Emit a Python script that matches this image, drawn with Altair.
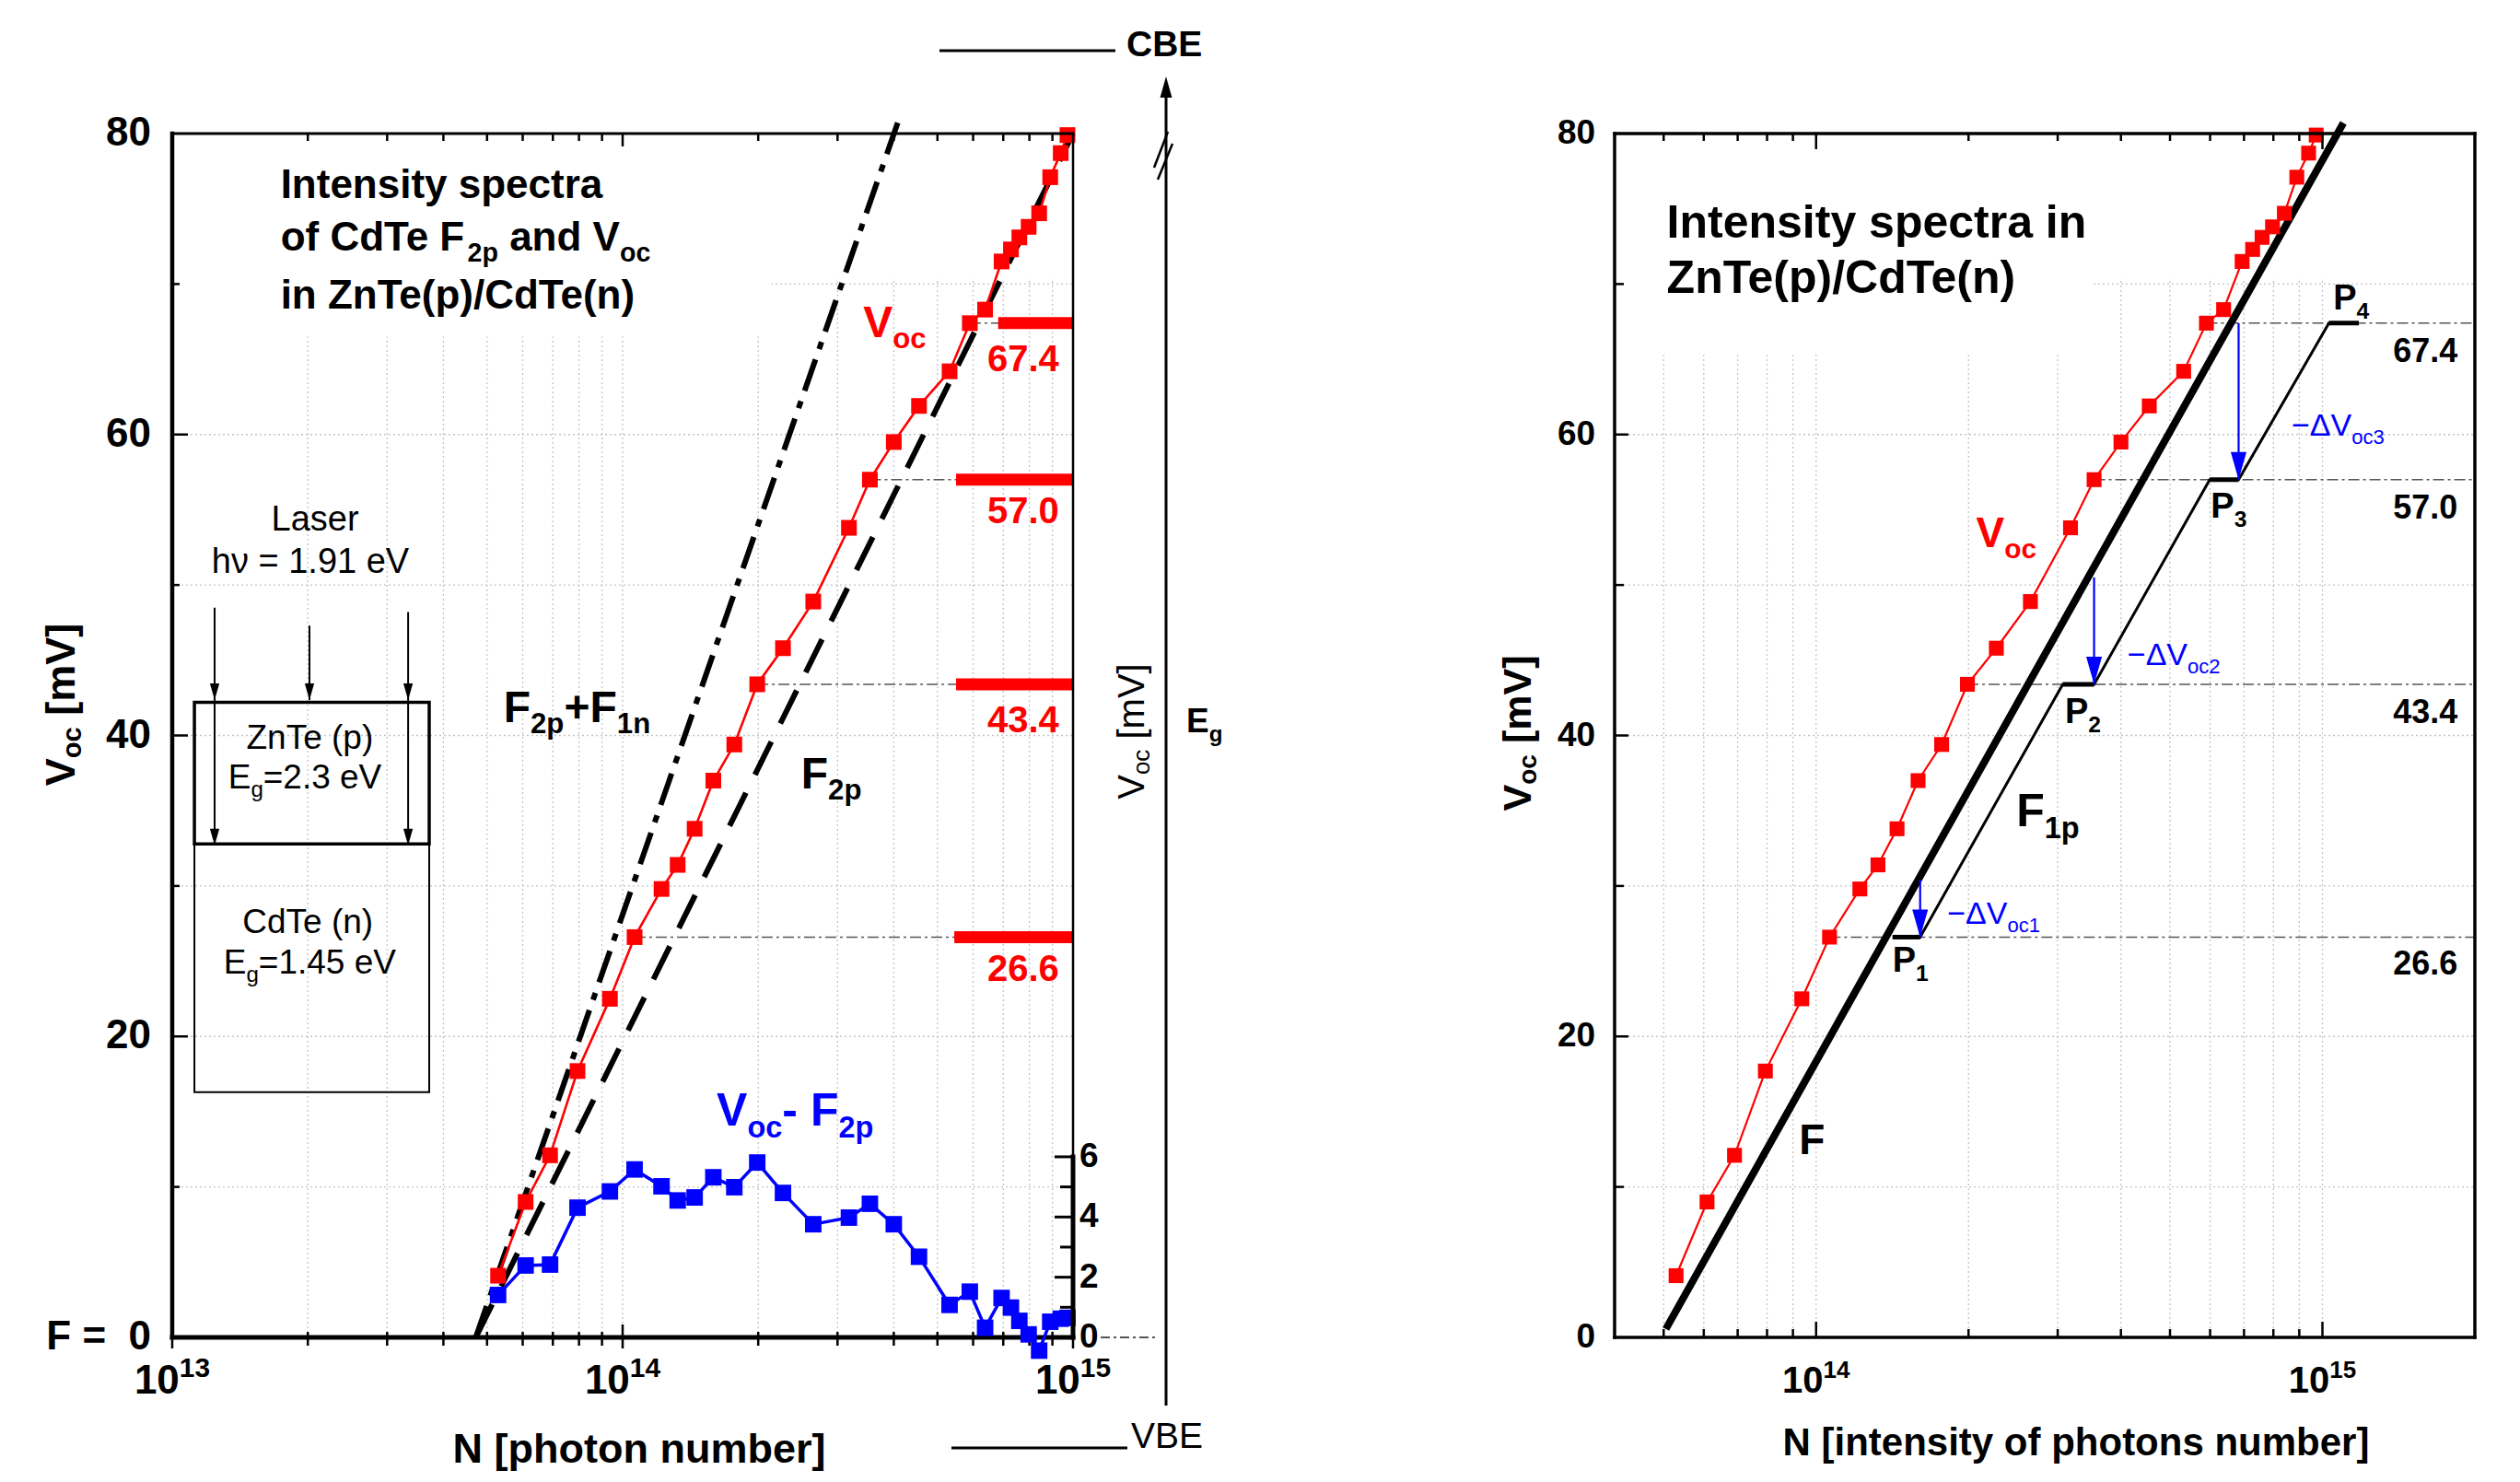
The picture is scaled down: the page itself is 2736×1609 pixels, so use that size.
import altair as alt
import pandas as pd

FONT = "Liberation Sans"

# ------------------------------------------------------------------ data
voc_N = [5.29e13, 6.09e13, 6.9e13, 7.94e13, 9.37e13, 1.063e14, 1.22e14, 1.325e14, 1.445e14, 1.59e14,
         1.77e14, 1.99e14, 2.27e14, 2.65e14, 3.18e14, 3.54e14, 4.0e14, 4.55e14, 5.32e14, 5.9e14,
         6.38e14, 6.94e14, 7.28e14, 7.6e14, 7.97e14, 8.41e14, 8.9e14, 9.39e14, 9.72e14]
voc_mV = [4.1, 9.0, 12.1, 17.7, 22.5, 26.6, 29.8, 31.4, 33.8, 37.0,
          39.4, 43.4, 45.8, 48.9, 53.8, 57.0, 59.5, 61.9, 64.2, 67.4,
          68.3, 71.5, 72.3, 73.1, 73.8, 74.7, 77.1, 78.7, 79.9]
diff_mV = [1.41, 2.39, 2.42, 4.31, 4.85, 5.58, 5.02, 4.55, 4.65, 5.32,
           4.99, 5.81, 4.80, 3.76, 3.98, 4.44, 3.76, 2.68, 1.08, 1.52,
           0.32, 1.31, 0.99, 0.55, 0.10, -0.44, 0.52, 0.62, 0.65]

f2p_N = [4.72e13, 1.0e15]
f2p_mV = [0.0, 80.0]
f2p_f1n_N = [4.72e13, 4.09e14]
f2p_f1n_mV = [0.0, 80.8]

F_N = [5.05e13, 1.10e15]
F_mV = [0.56, 80.7]
f1p_N = [1.416e14, 1.605e14, 3.07e14, 3.54e14, 5.99e14, 6.83e14, 1.03e15, 1.18e15]
f1p_mV = [26.6, 26.6, 43.4, 43.4, 57.0, 57.0, 67.4, 67.4]

levels = [26.6, 43.4, 57.0, 67.4]
level_labels = ["26.6", "43.4", "57.0", "67.4"]
level_from_N = [1.063e14, 1.99e14, 3.54e14, 5.9e14]
bar_from_N = [5.45e14, 5.5e14, 5.5e14, 6.82e14]

p_left_N = [1.416e14, 3.07e14, 5.99e14, 1.03e15]
p_right_N = [1.605e14, 3.54e14, 6.83e14, 1.18e15]
p_names = ["1", "2", "3", "4"]

arrow_N = [1.605e14, 3.54e14, 6.83e14]
arrow_top_mV = [30.4, 50.5, 67.4]
arrow_tip_mV = [26.6, 43.4, 57.0]

# inset schematic (left panel)
inset_arrow_N = [1.242e13, 2.017e13, 3.34e13]
inset_arrow_top = [48.5, 47.3, 48.2]
inset_arrow_bot = [32.7, 42.35, 32.7]
inset_head_N = [1.242e13, 2.017e13, 3.34e13, 1.242e13, 3.34e13]
inset_head_mV = [42.35, 42.35, 42.35, 32.7, 32.7]
znte_box = ([1.12e13], [3.72e13], [32.8], [42.2])
cdte_box = ([1.12e13], [3.72e13], [16.3], [32.8])

# ticks / labels
left_minor_N = [2e13, 3e13, 4e13, 5e13, 6e13, 7e13, 8e13, 9e13,
                2e14, 3e14, 4e14, 5e14, 6e14, 7e14, 8e14, 9e14]
left_major_N = [1e13, 1e14, 1e15]
left_xlabels = ["13", "14", "15"]
right_minor_N = [5e13, 6e13, 7e13, 8e13, 9e13, 2e14, 3e14, 4e14, 5e14, 6e14, 7e14, 8e14, 9e14]
right_major_N = [1e14, 1e15]
right_xlabels = ["14", "15"]
y_major = [0, 20, 40, 60, 80]
y_labels_left = ["F =\u00a0\u00a00", "20", "40", "60", "80"]
y_labels_right = ["0", "20", "40", "60", "80"]
y_minor = [10, 30, 50, 70]
y_grid = [10, 20, 30, 40, 50, 60, 70]
blue_major = [0, 2, 4, 6]
blue_labels = ["0", "2", "4", "6"]
blue_minor = [1, 3, 5]

# ------------------------------------------------------------------ geometry
LW, LH = 978, 1307
RW, RH = 934, 1307
LXS = alt.Scale(type="log", domain=[1e13, 1e15], nice=False)
RXS = alt.Scale(type="log", domain=[4e13, 2e15], nice=False)
YS = alt.Scale(domain=[0, 80], nice=False, zero=False)
BS = alt.Scale(domain=[0, 40], nice=False, zero=False)

RED = "#ff0000"
BLUE = "#0000ff"
GRID = "#c4c4c4"
DUMMY = pd.DataFrame({"a": [0]})

# ------------------------------------------------------------------ text metrics
def _mk(spec):
    d = {}
    for chars, w in spec:
        for c in chars:
            d[c] = w
    return d

REG = _mk([(" \u00a0.,/[]:", 278), ("()-", 333), ("+=\u2212", 584), ("0123456789", 556),
           ("ABEKPSVXY", 667), ("CDHNRU", 722), ("FTZ", 611), ("GOQ", 778), ("I", 278), ("J", 500),
           ("L", 556), ("M", 833), ("W", 944), ("abdeghnopqu", 556), ("cksvxyz", 500), ("ft", 278),
           ("ijl", 222), ("m", 833), ("r", 333), ("w", 722), ("\u03bd", 520), ("\u0394", 668)])
BOLD = _mk([(" \u00a0.,/:", 278), ("()-[]", 333), ("+=\u2212", 584), ("0123456789", 556),
            ("ABCDHKNRU", 722), ("EPSVXY", 667), ("FLTZ", 611), ("GOQ", 778), ("I", 278), ("J", 556),
            ("M", 833), ("W", 944), ("acesvyxk", 556), ("bdghnopqu", 611), ("ft", 333), ("ijl", 278),
            ("m", 889), ("r", 389), ("w", 778), ("z", 500), ("\u03bd", 556), ("\u0394", 668)])


def tw(s, size, bold):
    t = BOLD if bold else REG
    return sum(t.get(c, 556) for c in s) * size / 1000.0


def rich(parts, size, x=None, y=None, xs=None, ys=None, px=None, py=None, color="black",
         bold=True, align="left", angle=0, baseline="alphabetic", ratio=0.65):
    sizes = [size if k == 0 else size * ratio for _, k in parts]
    adv = [tw(t, s, bold) for (t, _), s in zip(parts, sizes)]
    total = sum(adv)
    off = {"left": 0.0, "center": -total / 2.0, "right": -total}[align]
    out = []
    for (t, k), s, a in zip(parts, sizes, adv):
        vis = t.strip(" ")
        lead = len(t) - len(t.lstrip(" "))
        dx = off + tw(" " * lead, s, bold)
        dy = 0.0 if k == 0 else (0.26 * size if k < 0 else -0.40 * size)
        enc = {
            "x": alt.value(px) if px is not None else alt.X("x:Q", scale=xs, axis=None),
            "y": alt.value(py) if py is not None else alt.Y("y:Q", scale=ys, axis=None),
        }
        df = pd.DataFrame({"x": [x if x is not None else 0], "y": [y if y is not None else 0]})
        m = alt.Chart(df).mark_text(text=vis, align="left", baseline=baseline, dx=round(dx, 1),
                                    dy=round(dy, 1), fontSize=round(s, 1), font=FONT,
                                    fontWeight="bold" if bold else "normal", color=color, angle=angle)
        out.append(m.encode(**enc))
        off += a
    return out


# ------------------------------------------------------------------ helpers
def vgrid(vals, xs, h):
    return alt.Chart(pd.DataFrame({"v": vals})).mark_rule(
        color=GRID, strokeWidth=1.3, strokeDash=[2, 3]).encode(
        x=alt.X("v:Q", scale=xs, axis=None), y=alt.value(0), y2=alt.value(h))


def hgrid(vals, ys, w):
    return alt.Chart(pd.DataFrame({"v": vals})).mark_rule(
        color=GRID, strokeWidth=1.3, strokeDash=[2, 3]).encode(
        y=alt.Y("v:Q", scale=ys, axis=None), x=alt.value(0), x2=alt.value(w))


def xticks(vals, xs, y0, y1, sw=2.5):
    return alt.Chart(pd.DataFrame({"v": vals})).mark_rule(color="black", strokeWidth=sw).encode(
        x=alt.X("v:Q", scale=xs, axis=None), y=alt.value(y0), y2=alt.value(y1))


def yticks(vals, ys, x0, x1, sw=2.5, color="black"):
    return alt.Chart(pd.DataFrame({"v": vals})).mark_rule(color=color, strokeWidth=sw).encode(
        y=alt.Y("v:Q", scale=ys, axis=None), x=alt.value(x0), x2=alt.value(x1))


def prule(x0, x1, y0, y1, sw, color="black", dash=None, cap="square"):
    kw = dict(color=color, strokeWidth=sw, strokeCap=cap)
    if dash:
        kw["strokeDash"] = dash
    return alt.Chart(DUMMY).mark_rule(**kw).encode(
        x=alt.value(x0), x2=alt.value(x1), y=alt.value(y0), y2=alt.value(y1))


def hseg(x0, x1, yv, xs, ys, **kw):
    df = pd.DataFrame({"x0": x0, "x1": x1, "y": yv})
    return alt.Chart(df).mark_rule(**kw).encode(
        x=alt.X("x0:Q", scale=xs, axis=None), x2=alt.X2("x1"), y=alt.Y("y:Q", scale=ys, axis=None))


def vseg(xv, y0, y1, xs, ys, **kw):
    df = pd.DataFrame({"x": xv, "y0": y0, "y1": y1})
    return alt.Chart(df).mark_rule(**kw).encode(
        x=alt.X("x:Q", scale=xs, axis=None), y=alt.Y("y0:Q", scale=ys, axis=None), y2=alt.Y2("y1"))


def line(xv, yv, xs, ys, **kw):
    df = pd.DataFrame({"x": xv, "y": yv, "o": list(range(len(xv)))})
    return alt.Chart(df).mark_line(**kw).encode(
        x=alt.X("x:Q", scale=xs, axis=None), y=alt.Y("y:Q", scale=ys, axis=None), order="o:Q")


def points(xv, yv, xs, ys, **kw):
    df = pd.DataFrame({"x": xv, "y": yv})
    return alt.Chart(df).mark_point(**kw).encode(
        x=alt.X("x:Q", scale=xs, axis=None), y=alt.Y("y:Q", scale=ys, axis=None))


def box(spec, xs, ys, **kw):
    x0, x1, y0, y1 = spec
    df = pd.DataFrame({"x0": x0, "x1": x1, "y0": y0, "y1": y1})
    return alt.Chart(df).mark_rect(**kw).encode(
        x=alt.X("x0:Q", scale=xs, axis=None), x2=alt.X2("x1"),
        y=alt.Y("y0:Q", scale=ys, axis=None), y2=alt.Y2("y1"))


DOWN_TIP = "M-0.57,-2L0.57,-2L0,0Z"
UP_TIP = "M-0.56,2L0.56,2L0,0Z"

# ------------------------------------------------------------------ left panel
L = []
L.append(alt.Chart(DUMMY).mark_rect(color="white").encode(
    x=alt.value(-179), x2=alt.value(-178), y=alt.value(-137), y2=alt.value(-136)))
L.append(vgrid(left_minor_N + [1e14], LXS, LH))
L.append(hgrid(y_grid, YS, LW))
L.append(box(([1.03e13], [2.14e14], [66.5], [79.8]), LXS, YS, color="white"))
L.append(box(([2.14e14], [9.9e14], [70.4], [79.8]), LXS, YS, color="white"))
# inset schematic
L.append(box(cdte_box, LXS, YS, filled=False, color="black", strokeWidth=2))
L.append(box(znte_box, LXS, YS, filled=False, color="black", strokeWidth=3.5))
L.append(vseg(inset_arrow_N, inset_arrow_top, inset_arrow_bot, LXS, YS, color="black", strokeWidth=2))
L.append(points(inset_head_N, inset_head_mV, LXS, YS, shape=DOWN_TIP, size=324, filled=True,
                color="black", opacity=1))
# level lines and red bars
L.append(hseg(level_from_N, 1e15, levels, LXS, YS, color="#555555", strokeWidth=1.5,
              strokeDash=[12, 4, 3, 4]))
L.append(hseg(bar_from_N, 1e15, levels, LXS, YS, color=RED, strokeWidth=13, strokeCap="butt"))
# model lines
L.append(line(f2p_N, f2p_mV, LXS, YS, color="black", strokeWidth=6, strokeDash=[40, 22]))
L.append(line(f2p_f1n_N, f2p_f1n_mV, LXS, YS, color="black", strokeWidth=6,
              strokeDash=[36, 12, 8, 12]))
# measured Voc
L.append(line(voc_N, voc_mV, LXS, YS, color=RED, strokeWidth=2.6))
L.append(points(voc_N, voc_mV, LXS, YS, shape="square", size=290, filled=True, color=RED, opacity=1))
# texts
L += rich([("Intensity spectra", 0)], 44, x=1.74e13, y=75.7, xs=LXS, ys=YS)
L += rich([("of CdTe F", 0), ("2p", -1), (" and V", 0), ("oc", -1)], 44, x=1.74e13, y=72.2, xs=LXS, ys=YS)
L += rich([("in ZnTe(p)/CdTe(n)", 0)], 44, x=1.74e13, y=68.4, xs=LXS, ys=YS)
L += rich([("V", 0), ("oc", -1)], 48, x=3.42e14, y=66.5, xs=LXS, ys=YS, color=RED)
L += rich([("F", 0), ("2p", -1), ("+F", 0), ("1n", -1)], 48, x=5.44e13, y=40.9, xs=LXS, ys=YS)
L += rich([("F", 0), ("2p", -1)], 48, x=2.49e14, y=36.5, xs=LXS, ys=YS)
L += rich([("V", 0), ("oc", -1), ("- F", 0), ("2p", -1)], 50, x=1.617e14, y=14.1, xs=LXS, ys=YS,
          color=BLUE)
for lab, yb in zip(level_labels, [23.7, 40.2, 54.1, 64.2]):
    L += rich([(lab, 0)], 40, x=9.31e14, y=yb, xs=LXS, ys=YS, color=RED, align="right")
L += rich([("Laser", 0)], 38, x=2.075e13, y=53.6, xs=LXS, ys=YS, bold=False, align="center")
L += rich([("h\u03bd = 1.91 eV", 0)], 38, x=2.03e13, y=50.8, xs=LXS, ys=YS, bold=False, align="center")
L += rich([("ZnTe (p)", 0)], 37, x=2.04e13, y=39.1, xs=LXS, ys=YS, bold=False, align="center")
L += rich([("E", 0), ("g", -1), ("=2.3 eV", 0)], 37, x=1.97e13, y=36.5, xs=LXS, ys=YS, bold=False,
          align="center")
L += rich([("CdTe (n)", 0)], 37, x=2.02e13, y=26.9, xs=LXS, ys=YS, bold=False, align="center")
L += rich([("E", 0), ("g", -1), ("=1.45 eV", 0)], 37, x=2.02e13, y=24.2, xs=LXS, ys=YS, bold=False,
          align="center")
# axis labels and titles
for v, lab in zip(y_major, y_labels_left):
    L += rich([(lab, 0)], 44, px=-23, y=v, ys=YS, align="right", baseline="middle")
for n, e in zip(left_major_N, left_xlabels):
    L += rich([("10", 0), (e, 1)], 44, x=n, xs=LXS, py=LH + 61, align="center", ratio=0.68)
L += rich([("N [photon number]", 0)], 45, px=507, py=LH + 122, align="center", baseline="middle")
L += rich([("V", 0), ("oc", -1), (" [mV]", 0)], 45, px=-120, py=620, align="center",
          baseline="middle", angle=270)
# frame and ticks
L.append(prule(0, LW, 0, 0, 3))
L.append(prule(LW, LW, 0, LH, 2.5))
L.append(prule(0, 0, 0, LH, 4.5))
L.append(prule(0, LW, LH, LH, 5))
L.append(yticks([20, 40, 60], YS, 0, 17))
L.append(yticks(y_minor, YS, 0, 8))
L.append(xticks([1e14], LXS, 0, 14))
L.append(xticks(left_minor_N, LXS, 0, 8))
L.append(xticks(left_major_N, LXS, LH - 14, LH + 12))
L.append(xticks(left_minor_N, LXS, LH - 6, LH + 9))
# energy axis to the right of the left panel
L.append(prule(833, 1024, -90, -90, 3, cap="butt"))
L += rich([("CBE", 0)], 39, px=1036, py=-84)
L.append(prule(846, 1037, 1427, 1427, 3, cap="butt"))
L += rich([("VBE", 0)], 39, px=1041, py=1427, bold=False)
L.append(prule(1079, 1079, -45, 1381, 3, cap="butt"))
L.append(alt.Chart(DUMMY).mark_point(shape=UP_TIP, size=529, filled=True, color="black",
                                     opacity=1).encode(x=alt.value(1079), y=alt.value(-62)))
L.append(prule(1066, 1081, 37, -2, 2.5, cap="butt"))
L.append(prule(1070, 1086, 50, 11, 2.5, cap="butt"))
L += rich([("V", 0), ("oc", -1), (" [mV]", 0)], 40, px=1043, py=649, bold=False, align="center",
          baseline="middle", angle=270)
L += rich([("E", 0), ("g", -1)], 37, px=1101, py=650)
L.append(prule(LW + 30, 1071, LH, LH, 2, color="#555555", dash=[10, 4, 3, 4], cap="butt"))

left_inner = alt.layer(*L)

B = []
B.append(line(voc_N, diff_mV, LXS, BS, color=BLUE, strokeWidth=3.5))
B.append(points(voc_N, diff_mV, LXS, BS, shape="square", size=320, filled=True, color=BLUE, opacity=1))
B.append(alt.Chart(pd.DataFrame({"b0": [blue_major[0]], "b1": [blue_major[-1]]})).mark_rule(
    color="black", strokeWidth=5, strokeCap="square").encode(
    x=alt.value(LW), y=alt.Y("b0:Q", scale=BS, axis=None), y2=alt.Y2("b1")))
B.append(yticks(blue_major, BS, LW - 20, LW, sw=3))
B.append(yticks(blue_minor, BS, LW - 14, LW, sw=3))
for v, lab in zip(blue_major, blue_labels):
    B += rich([(lab, 0)], 37, px=LW + 7, y=v, ys=BS, baseline="middle")
blue_group = alt.layer(*B)

left = alt.layer(left_inner, blue_group).resolve_scale(y="independent").properties(width=LW, height=LH)

# ------------------------------------------------------------------ right panel
R = []
R.append(vgrid(right_minor_N + right_major_N, RXS, RH))
R.append(hgrid(y_grid, YS, RW))
R.append(box(([4.1e13], [3.5e14], [65.3], [79.8]), RXS, YS, color="white"))
R.append(box(([3.5e14], [1.98e15], [70.4], [79.8]), RXS, YS, color="white"))
R.append(hseg(level_from_N, 2e15, levels, RXS, YS, color="#555555", strokeWidth=1.5,
              strokeDash=[12, 4, 3, 4]))
R.append(line(f1p_N, f1p_mV, RXS, YS, color="black", strokeWidth=3))
R.append(hseg(p_left_N, p_right_N, levels, RXS, YS, color="black", strokeWidth=5, strokeCap="butt"))
R.append(line(F_N, F_mV, RXS, YS, color="black", strokeWidth=8))
R.append(vseg(arrow_N, arrow_top_mV, arrow_tip_mV, RXS, YS, color=BLUE, strokeWidth=2.2))
R.append(points(arrow_N, arrow_tip_mV, RXS, YS, shape=DOWN_TIP, size=900, filled=True, color=BLUE,
                opacity=1))
R.append(line(voc_N, voc_mV, RXS, YS, color=RED, strokeWidth=2.2))
R.append(points(voc_N, voc_mV, RXS, YS, shape="square", size=260, filled=True, color=RED, opacity=1))
R += rich([("Intensity spectra in", 0)], 50, x=5.07e13, y=73.1, xs=RXS, ys=YS)
R += rich([("ZnTe(p)/CdTe(n)", 0)], 50, x=5.07e13, y=69.4, xs=RXS, ys=YS)
R += rich([("V", 0), ("oc", -1)], 46, x=2.07e14, y=52.5, xs=RXS, ys=YS, color=RED)
R += rich([("F", 0), ("1p", -1)], 50, x=2.486e14, y=34.0, xs=RXS, ys=YS)
R += rich([("F", 0)], 46, x=9.25e13, y=12.2, xs=RXS, ys=YS)
for nm, xv, yv in zip(p_names, [1.416e14, 3.1e14, 6.02e14, 1.05e15], [24.3, 40.85, 54.5, 68.3]):
    R += rich([("P", 0), (nm, -1)], 38, x=xv, y=yv, xs=RXS, ys=YS)
for k, xv, yv in zip(["1", "2", "3"], [1.816e14, 4.12e14, 8.69e14], [27.5, 44.7, 59.9]):
    R += rich([("\u2212\u0394V", 0), ("oc" + k, -1)], 34, x=xv, y=yv, xs=RXS, ys=YS, color=BLUE,
              bold=False)
for lab, yb in zip(level_labels, [24.1, 40.85, 54.4, 64.8]):
    R += rich([(lab, 0)], 36, x=1.849e15, y=yb, xs=RXS, ys=YS, align="right")
for v, lab in zip(y_major, y_labels_right):
    R += rich([(lab, 0)], 37, px=-21, y=v, ys=YS, align="right", baseline="middle")
for n, e in zip(right_major_N, right_xlabels):
    R += rich([("10", 0), (e, 1)], 40, x=n, xs=RXS, py=RH + 60, align="center")
R += rich([("N [intensity of photons number]", 0)], 42, px=501, py=RH + 115, align="center",
          baseline="middle")
R += rich([("V", 0), ("oc", -1), (" [mV]", 0)], 43, px=-104, py=651, align="center",
          baseline="middle", angle=270)
R.append(prule(0, RW, 0, 0, 3.5))
R.append(prule(RW, RW, 0, RH, 3.5))
R.append(prule(0, 0, 0, RH, 3.5))
R.append(prule(0, RW, RH, RH, 3.5))
R.append(yticks([20, 40, 60], YS, 0, 15))
R.append(yticks(y_minor, YS, 0, 10))
R.append(xticks(right_major_N, RXS, 0, 17))
R.append(xticks(right_minor_N, RXS, 0, 8))
R.append(xticks(right_major_N, RXS, RH - 17, RH))
R.append(xticks(right_minor_N, RXS, RH - 9, RH))

right = alt.layer(*R).properties(width=RW, height=RH)

chart = alt.hconcat(left, right, spacing=588, bounds="flush").properties(
    padding=0, background="white").configure_view(stroke=None)

chart.save("out.html", embed_options={"renderer": "svg", "actions": False})
